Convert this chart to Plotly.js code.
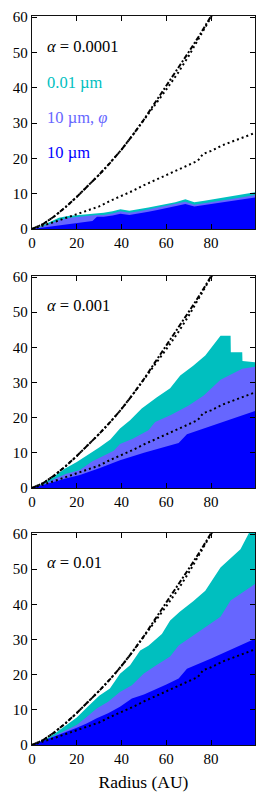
<!DOCTYPE html>
<html>
<head>
<meta charset="utf-8">
<script src="https://cdn.plot.ly/plotly-3.0.1.min.js"></script>
<style>
html,body{margin:0;padding:0;background:#fff;}
#chart{width:258px;height:810px;}
</style>
</head>
<body>
<div id="chart"></div>
<script>
// ---- Data ----
// Panel 1: alpha = 0.0001
const r1 = [0, 4, 8, 12, 16, 20, 24, 27, 29, 32, 36, 39.5, 43.5, 48, 52, 56, 60, 64, 68.5, 72.5, 77, 82, 87, 92, 96, 99.6];
const cyan1 = [0, 0.8, 2.0, 3.2, 3.7, 3.9, 4.1, 4.4, 4.5, 4.6, 5.0, 5.6, 5.2, 5.6, 6.1, 6.6, 7.1, 7.6, 8.4, 7.6, 8.0, 8.5, 9.0, 9.5, 10.0, 10.4];
const purple1 = [0, 0.6, 1.5, 2.5, 3.1, 3.4, 3.6, 3.9, 4.0, 4.0, 4.4, 5.0, 4.6, 5.0, 5.5, 6.0, 6.5, 7.0, 7.7, 6.9, 7.3, 7.8, 8.3, 8.8, 9.2, 9.6];
const blue1 = [0, 0.35, 0.7, 1.05, 1.4, 1.7, 2.0, 2.3, 3.5, 3.5, 3.8, 4.3, 4.0, 4.4, 4.9, 5.4, 5.9, 6.4, 7.1, 6.4, 6.8, 7.2, 7.7, 8.2, 8.6, 8.9];

// Panel 2: alpha = 0.001
const r2c = [0, 5, 10, 15, 20, 24.5, 30, 35, 39.3, 43.8, 49, 55.8, 61.7, 66.2, 72, 77.4, 84.2, 88.7, 88.8, 93.9, 94, 99.6];
const cyan2 = [0, 1.3, 3.4, 5.6, 7.4, 9.2, 11.5, 13.8, 16.9, 19.3, 22.6, 25.8, 28.4, 32.0, 34.8, 37.7, 43.3, 43.3, 38.6, 38.6, 36.1, 35.8];
const r2p = [0, 5, 10, 15, 21.4, 27, 32, 36.5, 39.3, 45, 52, 55, 62, 70, 76.7, 84.2, 93.9, 99.6];
const purple2 = [0, 1.0, 2.6, 4.0, 5.1, 7.6, 9.2, 10.6, 12.5, 14.0, 16.4, 18.8, 20.8, 23.5, 26.3, 30.8, 33.9, 34.5];
const r2b = [0, 5, 10, 15, 21.4, 30, 39.3, 50, 60, 65.5, 69.2, 80, 90, 99.6];
const blue2 = [0, 0.8, 1.8, 2.7, 3.7, 5.6, 7.9, 10.0, 11.9, 12.8, 15.3, 17.6, 19.7, 21.9];

// Panel 3: alpha = 0.01
const r3c = [0, 5, 10, 15.4, 20, 24.4, 30, 34.8, 39.3, 43.8, 48.3, 52, 58, 61.7, 66, 72, 77.4, 84.2, 88, 93.1, 96.9, 99.6];
const cyan3 = [0, 1.3, 3.2, 5.6, 7.8, 10.6, 14.0, 16.1, 20.3, 22.7, 26.9, 28.2, 31.6, 35.4, 37.9, 40.9, 43.9, 50.5, 52.8, 55.7, 60.3, 61.0];
const r3p = [0, 5, 10, 15.4, 20, 24.4, 28.9, 34, 39.3, 44.6, 49.8, 55, 61.7, 65.5, 75, 84.2, 88.7, 94, 99.6];
const purple3 = [0, 1.1, 2.6, 4.3, 5.7, 8.0, 10.4, 12.3, 15.1, 17.0, 20.3, 22.5, 25.2, 28.3, 32.4, 36.5, 41.1, 43.5, 45.8];
const r3b = [0, 5, 10, 15.4, 20, 24.4, 28.9, 34, 39.3, 44.6, 50, 55, 60, 65.5, 69.2, 80, 90, 99.6];
const blue3 = [0, 1.3, 2.5, 3.8, 4.9, 6.1, 7.6, 9.0, 10.9, 13.2, 14.4, 15.7, 17.2, 18.9, 21.7, 24.6, 27.4, 30.2];

// Reference curves (identical in all panels)
const rDot = [0, 5, 10, 15, 20, 25, 30, 35, 40, 45, 50, 55, 60, 66, 70, 74, 76.5, 80, 85, 90, 95, 99.6];
const dotted = [0, 0.9, 2.0, 3.1, 4.2, 5.3, 6.4, 8.0, 9.3, 10.8, 12.4, 13.8, 15.2, 16.9, 18.1, 19.3, 21.3, 22.1, 23.7, 25.0, 26.1, 27.2];
const rDash = [0, 5, 10, 15, 20, 25, 30, 35, 40, 45, 50, 55, 60, 65, 70, 75, 80, 85, 90, 99.6];
const dashdot = [0, 1.4, 3.6, 6.2, 9.1, 12.2, 15.4, 18.8, 22.5, 26.6, 31.0, 35.8, 40.5, 45.3, 50.1, 55.0, 60.6, 66, 71, 81];
const dashdot2 = [0, 1.4, 3.6, 6.2, 9.1, 12.2, 15.4, 18.8, 22.5, 26.6, 30.8, 35.2, 39.5, 44.0, 49.0, 54.5, 60.3, 66, 71, 81];

const alphaLabels = ['<i>α</i> = 0.0001', '<i>α</i> = 0.001', '<i>α</i> = 0.01'];
const legendLabels = ['0.01 µm', '10 µm, <i>φ</i>', '10 µm'];
const xTicks = [0, 20, 40, 60, 80];
const yTicks = [0, 10, 20, 30, 40, 50, 60];

// ---- Styles ----
const C_CYAN = '#00bfbf', C_PURPLE = '#6666ff', C_BLUE = '#0000ff';
const FONT = "'Liberation Serif', 'Times New Roman', serif";

const panels = [
  {xa:'x', ya:'y', c:[r1, cyan1], p:[r1, purple1], b:[r1, blue1]},
  {xa:'x2', ya:'y2', c:[r2c, cyan2], p:[r2p, purple2], b:[r2b, blue2]},
  {xa:'x3', ya:'y3', c:[r3c, cyan3], p:[r3p, purple3], b:[r3b, blue3]}
];

const traces = [];
panels.forEach(pn => {
  [[pn.c, C_CYAN], [pn.p, C_PURPLE], [pn.b, C_BLUE]].forEach(([d, col]) => {
    traces.push({x:d[0], y:d[1], xaxis:pn.xa, yaxis:pn.ya, type:'scatter', mode:'lines',
      fill:'tozeroy', fillcolor:col, line:{width:0, color:col}, hoverinfo:'skip', showlegend:false});
  });
  traces.push({x:rDot, y:dotted, xaxis:pn.xa, yaxis:pn.ya, type:'scatter', mode:'lines',
    line:{color:'#000', width:2, dash:'2px,3px'}, showlegend:false});
  traces.push({x:rDash, y:dashdot2, xaxis:pn.xa, yaxis:pn.ya, type:'scatter', mode:'lines',
    line:{color:'#000', width:2, dash:'2px,3px'}, showlegend:false});
  traces.push({x:rDash, y:dashdot, xaxis:pn.xa, yaxis:pn.ya, type:'scatter', mode:'lines',
    line:{color:'#000', width:2, dash:'5px,2px,2px,2px'}, showlegend:false});
});

function xax(anchor, withTitle) {
  const a = {anchor:anchor, range:[0, 99.6], tickvals:xTicks, ticks:'inside', ticklen:5, tickwidth:1,
    tickcolor:'#000', showline:true, linecolor:'#111', linewidth:1.3, mirror:'allticks',
    showgrid:false, zeroline:false, tickfont:{family:FONT, size:15, color:'#000'}};
  if (withTitle) a.title = {text:'Radius (AU)', font:{family:FONT, size:17.5, color:'#000'}, standoff:9};
  return a;
}
function yax(anchor, domain) {
  return {anchor:anchor, domain:domain, range:[0, 60.3], tickvals:yTicks, ticks:'inside', ticklen:5, tickwidth:1,
    tickcolor:'#000', showline:true, linecolor:'#111', linewidth:1.3, mirror:'allticks',
    showgrid:false, zeroline:false, tickfont:{family:FONT, size:15, color:'#000'}};
}

const annotations = [];
const yrefs = ['y', 'y2', 'y3'];
const xrefs = ['x', 'x2', 'x3'];
alphaLabels.forEach((t, i) => {
  annotations.push({text:t, x:5.7, y:51.8, xref:xrefs[i], yref:yrefs[i], xanchor:'left', yanchor:'middle',
    showarrow:false, font:{family:FONT, size:16.5, color:'#000'}});
});
const legCols = [C_CYAN, C_PURPLE, C_BLUE];
const legY = [41.5, 31.5, 21.8];
legendLabels.forEach((t, i) => {
  annotations.push({text:t, x:5.7, y:legY[i], xref:'x', yref:'y', xanchor:'left', yanchor:'middle',
    showarrow:false, font:{family:FONT, size:16.5, color:legCols[i]}});
});

const layout = {
  width:258, height:810,
  margin:{l:32, r:3, t:16, b:65},
  paper_bgcolor:'#fff', plot_bgcolor:'#fff',
  font:{family:FONT, color:'#000'},
  showlegend:false,
  xaxis:xax('y', false), xaxis2:xax('y2', false), xaxis3:xax('y3', true),
  yaxis:yax('x', [0.7078, 1]), yaxis2:yax('x2', [0.3525, 0.6433]), yaxis3:yax('x3', [0, 0.2908]),
  annotations:annotations
};

Plotly.newPlot('chart', traces, layout, {staticPlot:true, displayModeBar:false});
</script>
</body>
</html>
